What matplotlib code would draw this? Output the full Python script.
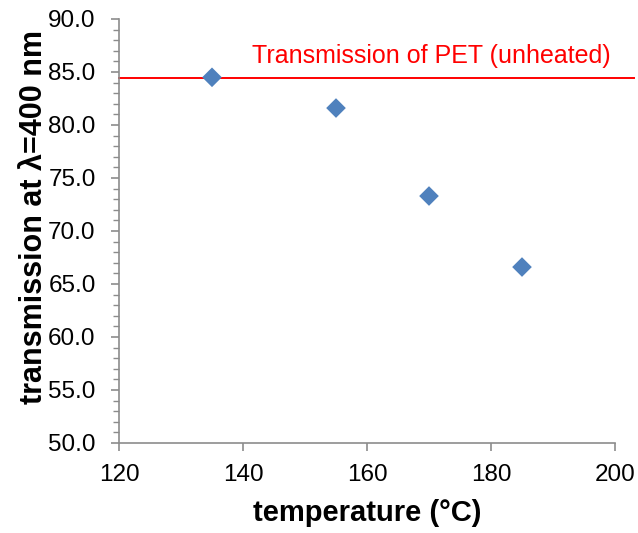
import matplotlib
matplotlib.use("Agg")
import matplotlib.pyplot as plt
from matplotlib.ticker import MultipleLocator, FormatStrFormatter

# Measured transmission at 400 nm after heat treatment
temperature = [135, 155, 170, 185]
transmission = [84.5, 81.6, 73.3, 66.6]
pet_unheated = 84.4

x_ticks = [120, 140, 160, 180, 200]
y_ticks = [50, 55, 60, 65, 70, 75, 80, 85, 90]

plt.rcParams['font.family'] = ['Liberation Sans', 'DejaVu Sans']

fig = plt.figure(figsize=(6.38, 5.33), dpi=100)
ax = fig.add_axes([119 / 638, 1 - 443 / 533, (615 - 119) / 638, (443 - 19) / 533])

ax.scatter(temperature, transmission, marker='D', s=100, color='#4F81BD', zorder=3,
           edgecolors='none')

# Reference line for untreated PET, running a little past the plot edge
ax.plot([120, 203.1], [pet_unheated, pet_unheated], color='#FF0000', lw=1.4,
        clip_on=False, zorder=2)
ax.text(170.4, 85.85, 'Transmission of PET (unheated)', color='#FF0000',
        fontsize=18, ha='center', va='baseline')

ax.set_xlim(120, 200)
ax.set_ylim(50, 90)
ax.set_xticks(x_ticks)
ax.set_yticks(y_ticks)
ax.yaxis.set_minor_locator(MultipleLocator(1))
ax.yaxis.set_major_formatter(FormatStrFormatter('%.1f'))

for side in ('top', 'right'):
    ax.spines[side].set_visible(False)
for side in ('left', 'bottom'):
    ax.spines[side].set_color('#8C8C8C')
    ax.spines[side].set_linewidth(1.2)

ax.tick_params(axis='both', which='major', colors='#8C8C8C', length=5.8, width=1.2,
               labelcolor='black', labelsize=17.5)
ax.tick_params(axis='y', which='minor', colors='#8C8C8C', length=4.3, width=1.0)
ax.tick_params(axis='x', pad=9)
ax.tick_params(axis='y', pad=11)

ax.set_xlabel('temperature (°C)', fontsize=21, fontweight='bold', labelpad=10)
ax.set_ylabel('transmission at λ=400 nm', fontsize=22, fontweight='bold')
ax.yaxis.set_label_coords(-0.142, 0.532)

fig.savefig('out.png', dpi=100)
